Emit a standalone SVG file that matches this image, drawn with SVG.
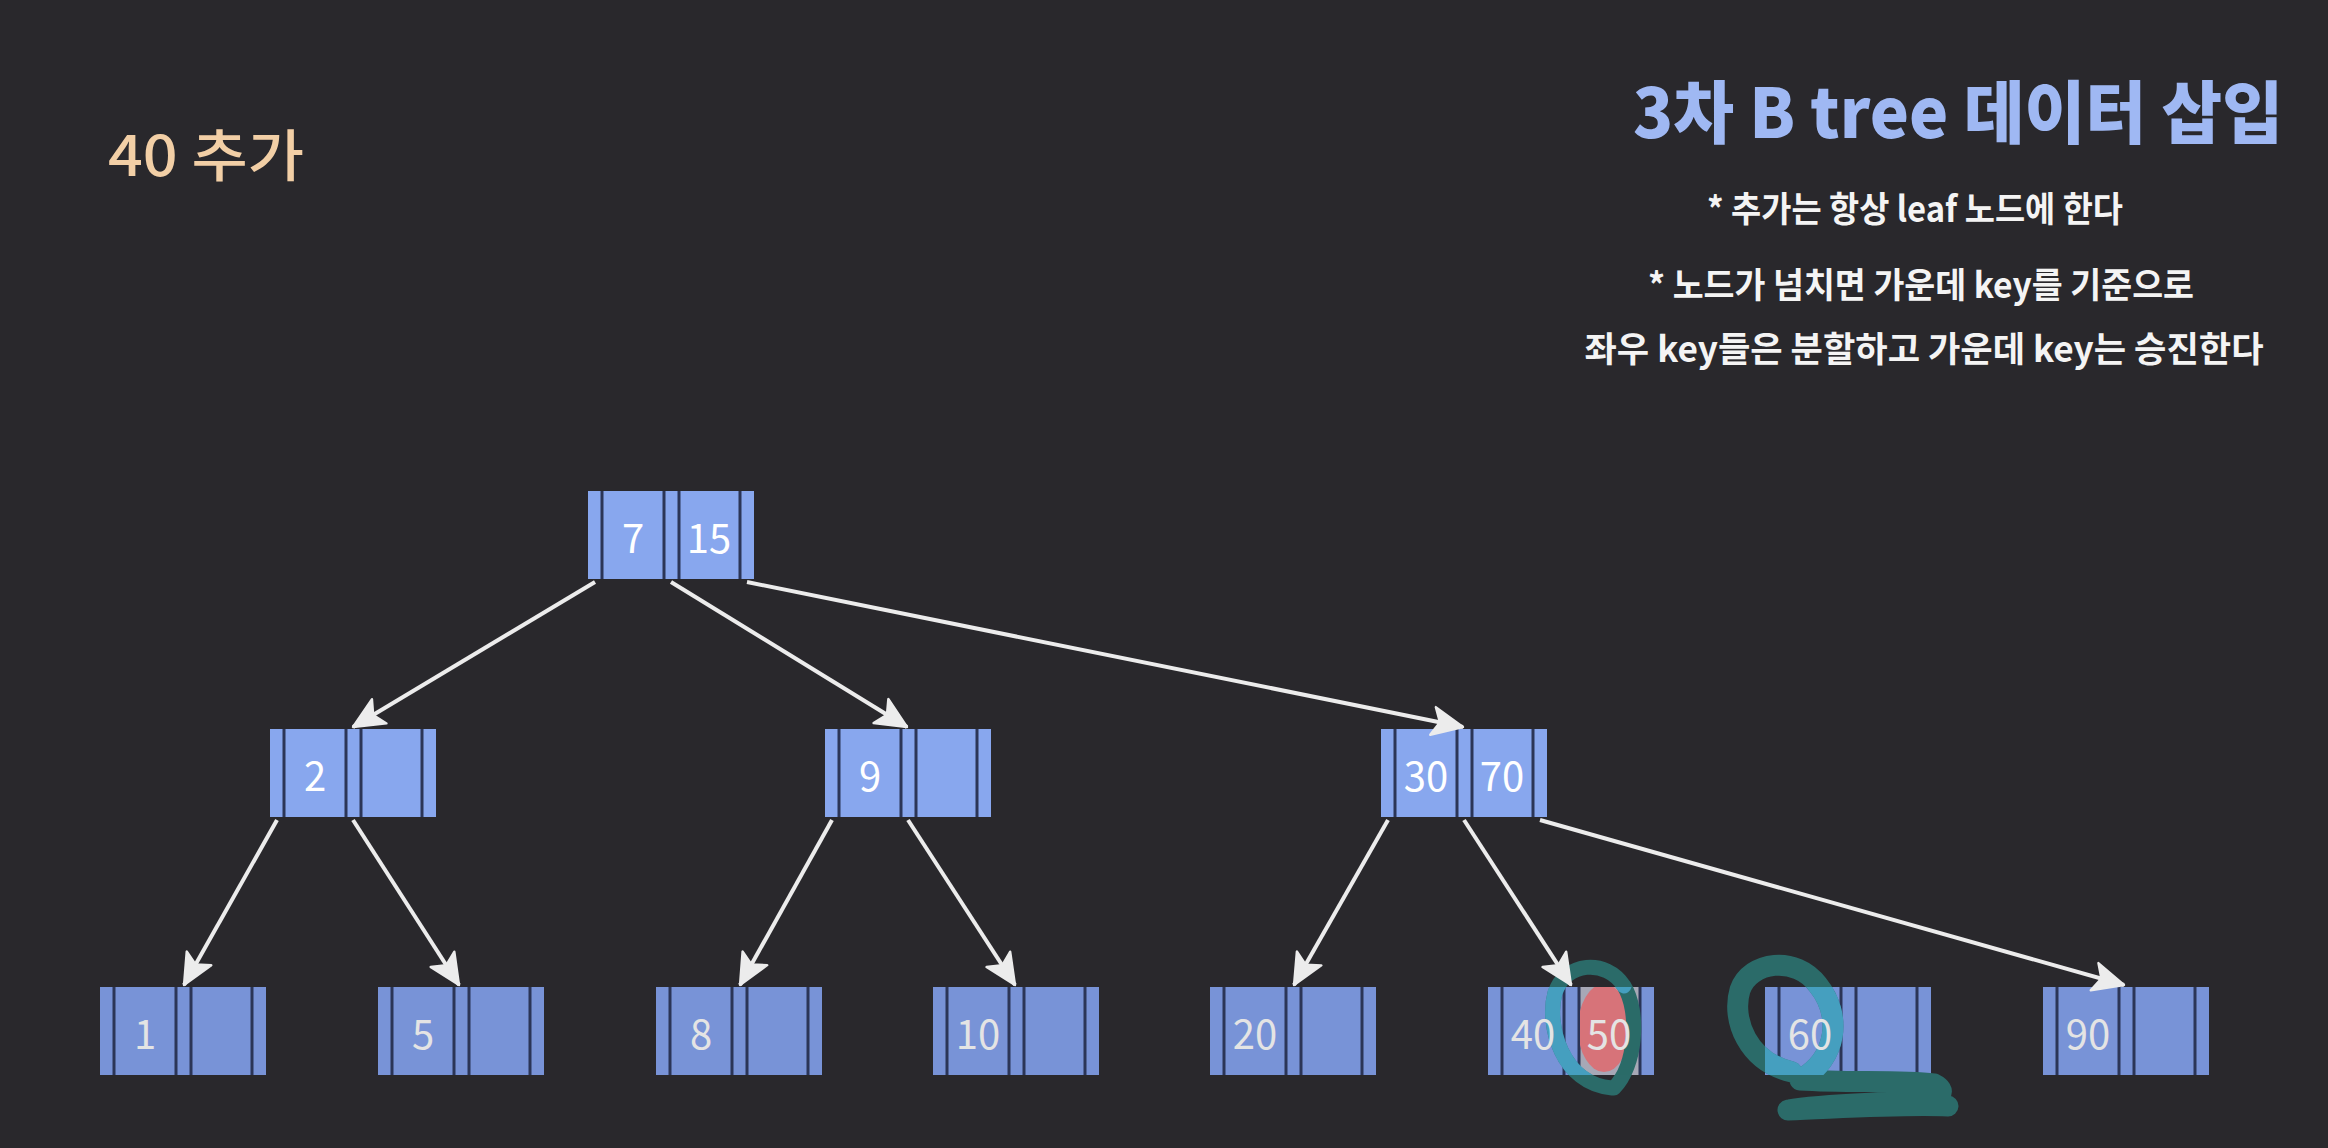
<svg xmlns="http://www.w3.org/2000/svg" width="2328" height="1148" viewBox="0 0 2328 1148">
<defs>
<style>
.bg{fill:#29282c}
.up{fill:#88a7ee}
.leaf{fill:#7893d7}
.sep{stroke:#2b3557;stroke-width:3}
.kt{font-family:"Noto Sans CJK KR","Noto Sans",sans-serif;font-size:40px;text-anchor:middle;fill:#ffffff}
.lt{font-family:"Noto Sans CJK KR","Noto Sans",sans-serif;font-size:40px;text-anchor:middle;fill:#e4e4e4}
.edge{stroke:#ececec;stroke-width:4;fill:none;marker-end:url(#ah)}
.title{font-family:"Noto Sans CJK KR",sans-serif;font-size:68px;font-weight:900;fill:#9fb8f3;text-anchor:middle}
.sub{font-family:"Noto Sans CJK KR",sans-serif;font-size:35px;font-weight:700;fill:#f4f4f4;text-anchor:middle}
.step{font-family:"Noto Sans CJK KR",sans-serif;font-size:56px;font-weight:500;fill:#f2cfa6}
.ink{fill:none;stroke:#2b6b69;stroke-linecap:round;stroke-linejoin:round}
.inkc{fill:none;stroke:#4fb0dc;stroke-linecap:round;stroke-linejoin:round}
</style>
<marker id="ah" markerUnits="userSpaceOnUse" markerWidth="40" markerHeight="40" viewBox="-30 -15 34 30" refX="0" refY="0" orient="auto">
<path d="M0,0 L-26,-12 L-20,0 L-26,12 Z" fill="#ececec" stroke="#ececec" stroke-width="2" stroke-linejoin="round"/>
</marker>
<g id="seps">
<line class="sep" x1="14" y1="0" x2="14" y2="88"/>
<line class="sep" x1="76" y1="0" x2="76" y2="88"/>
<line class="sep" x1="91" y1="0" x2="91" y2="88"/>
<line class="sep" x1="152" y1="0" x2="152" y2="88"/>
</g>
<clipPath id="nodeclip">
<rect x="1488" y="987" width="166" height="88"/>
<rect x="1765" y="987" width="166" height="88"/>
</clipPath>
<clipPath id="cell50">
<rect x="1580" y="987" width="59" height="88"/>
</clipPath>
</defs>
<rect class="bg" x="0" y="0" width="2328" height="1148"/>

<text class="step" x="108" y="176" textLength="196" lengthAdjust="spacingAndGlyphs">40 추가</text>
<text class="title" x="1958" y="138" textLength="650" lengthAdjust="spacingAndGlyphs">3차 B tree 데이터 삽입</text>
<text class="sub" x="1915" y="222" textLength="416" lengthAdjust="spacingAndGlyphs">* 추가는 항상 leaf 노드에 한다</text>
<text class="sub" x="1921" y="298" textLength="546" lengthAdjust="spacingAndGlyphs">* 노드가 넘치면 가운데 key를 기준으로</text>
<text class="sub" x="1924" y="362" textLength="679" lengthAdjust="spacingAndGlyphs">좌우 key들은 분할하고 가운데 key는 승진한다</text>

<g id="node-root" transform="translate(588,491)">
<rect class="up" x="0" y="0" width="166" height="88"/>
<use href="#seps"/>
<text class="kt" x="45" y="62">7</text>
<text class="kt" x="121" y="62">15</text>
</g>
<g id="node-2" transform="translate(270,729)">
<rect class="up" x="0" y="0" width="166" height="88"/>
<use href="#seps"/>
<text class="kt" x="45" y="62">2</text>
</g>
<g id="node-9" transform="translate(825,729)">
<rect class="up" x="0" y="0" width="166" height="88"/>
<use href="#seps"/>
<text class="kt" x="45" y="62">9</text>
</g>
<g id="node-30-70" transform="translate(1381,729)">
<rect class="up" x="0" y="0" width="166" height="88"/>
<use href="#seps"/>
<text class="kt" x="45" y="62">30</text>
<text class="kt" x="121" y="62">70</text>
</g>

<g id="leaf-1" transform="translate(100,987)">
<rect class="leaf" x="0" y="0" width="166" height="88"/>
<use href="#seps"/>
<text class="lt" x="45" y="62">1</text>
</g>
<g id="leaf-5" transform="translate(378,987)">
<rect class="leaf" x="0" y="0" width="166" height="88"/>
<use href="#seps"/>
<text class="lt" x="45" y="62">5</text>
</g>
<g id="leaf-8" transform="translate(656,987)">
<rect class="leaf" x="0" y="0" width="166" height="88"/>
<use href="#seps"/>
<text class="lt" x="45" y="62">8</text>
</g>
<g id="leaf-10" transform="translate(933,987)">
<rect class="leaf" x="0" y="0" width="166" height="88"/>
<use href="#seps"/>
<text class="lt" x="45" y="62">10</text>
</g>
<g id="leaf-20" transform="translate(1210,987)">
<rect class="leaf" x="0" y="0" width="166" height="88"/>
<use href="#seps"/>
<text class="lt" x="45" y="62">20</text>
</g>
<g id="leaf-40-50" transform="translate(1488,987)">
<rect class="leaf" x="0" y="0" width="166" height="88"/>
<rect x="92" y="0" width="59" height="88" fill="#a7a9b6"/>
<use href="#seps"/>
</g>
<ellipse cx="1604" cy="1028" rx="26" ry="44" fill="#d7737a" clip-path="url(#cell50)"/>
<g id="leaf-60" transform="translate(1765,987)">
<rect class="leaf" x="0" y="0" width="166" height="88"/>
<use href="#seps"/>
</g>
<g id="leaf-90" transform="translate(2043,987)">
<rect class="leaf" x="0" y="0" width="166" height="88"/>
<use href="#seps"/>
<text class="lt" x="45" y="62">90</text>
</g>

<g id="ink">
<path class="ink" stroke-width="15" d="M1612,1088 C1562,1084 1546,1025 1555,993 C1565,962 1606,958 1624,986 C1640,1012 1636,1066 1614,1088"/>
<path class="ink" stroke-width="21" d="M1792,1072 C1748,1062 1731,1020 1740,990 C1750,961 1796,955 1818,985 C1842,1015 1838,1058 1800,1080 C1850,1083 1900,1080 1934,1084 C1948,1091 1940,1098 1925,1100 C1870,1104 1822,1104 1788,1110 C1842,1108 1900,1104 1948,1106"/>
<g clip-path="url(#nodeclip)" opacity="0.75">
<path class="inkc" stroke-width="15" d="M1612,1088 C1562,1084 1546,1025 1555,993 C1565,962 1606,958 1624,986"/>
<path class="inkc" stroke-width="21" d="M1792,1072 C1748,1062 1731,1020 1740,990 C1750,961 1796,955 1818,985 C1842,1015 1838,1058 1800,1080"/>
</g>
</g>
<text class="lt" x="1533" y="1049">40</text>
<text class="lt" x="1609" y="1049">50</text>
<text class="lt" x="1810" y="1049">60</text>

<g id="connectors">
<line class="edge" x1="595" y1="582" x2="353" y2="727"/>
<line class="edge" x1="671" y1="582" x2="907" y2="727"/>
<line class="edge" x1="747" y1="582" x2="1463" y2="727"/>
<line class="edge" x1="277" y1="820" x2="184" y2="985"/>
<line class="edge" x1="353" y1="820" x2="459" y2="985"/>
<line class="edge" x1="832" y1="820" x2="740" y2="985"/>
<line class="edge" x1="908" y1="820" x2="1015" y2="985"/>
<line class="edge" x1="1388" y1="820" x2="1294" y2="985"/>
<line class="edge" x1="1464" y1="820" x2="1571" y2="985"/>
<line class="edge" x1="1540" y1="820" x2="2124" y2="985"/>
</g>
</svg>
